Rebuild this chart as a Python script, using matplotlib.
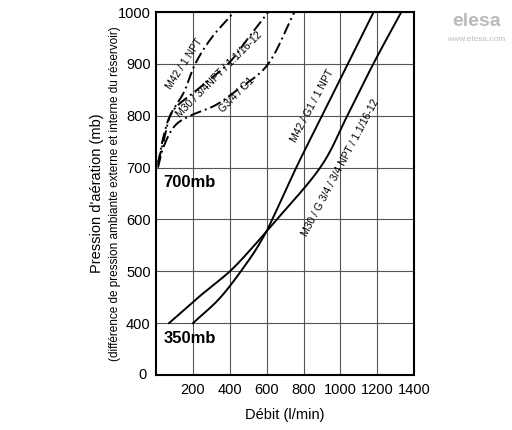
import matplotlib
matplotlib.use("Agg")
import matplotlib.pyplot as plt
import numpy as np

plt.rcParams['font.family'] = ['Liberation Sans', 'DejaVu Sans']

m42_g1_x = [200, 350, 500, 580, 630, 760, 900, 1040, 1180]
m42_g1_y = [400, 450, 520, 565, 600, 700, 800, 900, 1000]
m30_g34_x = [70, 230, 400, 520, 630, 890, 1037, 1178, 1330]
m30_g34_y = [400, 450, 500, 545, 590, 700, 800, 900, 1000]
m42_npt_x = [10, 40, 76, 150, 212, 300, 423]
m42_npt_y = [710, 750, 800, 845, 900, 950, 1000]
m30_npt_x = [10, 40, 92, 222, 390, 500, 608]
m30_npt_y = [705, 760, 810, 850, 900, 950, 1000]
g34_x = [10, 40, 100, 185, 320, 440, 608, 750]
g34_y = [700, 740, 780, 800, 820, 850, 900, 1000]

fig = plt.figure(figsize=(5.12, 4.30), dpi=100)
ax = fig.add_axes([0.305, 0.128, 0.504, 0.844])
ax.set_xlim(0, 1400)
ax.set_ylim(300, 1000)
ax.set_xticks([200, 400, 600, 800, 1000, 1200, 1400])
ax.set_yticks([400, 500, 600, 700, 800, 900, 1000])
ax.grid(True, color='#555555', lw=0.8)
for s in ax.spines.values():
    s.set_linewidth(1.5)
ax.tick_params(length=0, labelsize=10.5)
ax.tick_params(axis='y', pad=4)
ax.tick_params(axis='x', pad=6)
ax.text(-75, 300, '0', ha='center', va='center', fontsize=10.5)

def smooth(x, y, ls):
    p = np.column_stack([x, y]).astype(float)
    p = np.vstack([2*p[0]-p[1], p, 2*p[-1]-p[-2]])
    out = []
    t = np.linspace(0, 1, 30)[:, None]
    for i in range(1, len(p)-2):
        p0, p1, p2, p3 = p[i-1], p[i], p[i+1], p[i+2]
        seg = 0.5*((2*p1) + (-p0+p2)*t + (2*p0-5*p1+4*p2-p3)*t**2 + (-p0+3*p1-3*p2+p3)*t**3)
        out.append(seg)
    q = np.vstack(out)
    ax.plot(q[:, 0], q[:, 1], color='black', lw=1.4, ls=ls)

dd = (0, (6, 2, 1, 2))
smooth(m42_g1_x, m42_g1_y, '-')
smooth(m30_g34_x, m30_g34_y, '-')
smooth(m42_npt_x, m42_npt_y, dd)
smooth(m30_npt_x, m30_npt_y, dd)
smooth(g34_x, g34_y, dd)

fs = 7.5
ax.text(155, 900, 'M42 / 1 NPT', rotation=57, fontsize=fs, ha='center', va='center')
ax.text(340, 880, 'M30 / 3/4NPT / 1.1/16-12', rotation=45, fontsize=fs, ha='center', va='center')
ax.text(440, 840, 'G3/4 / G1', rotation=45, fontsize=fs, ha='center', va='center')
ax.text(850, 820, 'M42 / G1 / 1 NPT', rotation=62, fontsize=fs, ha='center', va='center')
ax.text(1000, 700, 'M30 / G 3/4 / 3/4 NPT / 1.1/16-12', rotation=62, fontsize=fs, ha='center', va='center')
ax.text(40, 672, '700mb', fontsize=12, fontweight='bold', va='center')
ax.text(40, 370, '350mb', fontsize=12, fontweight='bold', va='center')

ax.set_xlabel('Débit (l/min)', fontsize=10.5, labelpad=8)
fig.text(0.19, 0.55, "Pression d'aération (mb)", rotation=90, ha='center', va='center', fontsize=10.5)
fig.text(0.225, 0.55, "(différence de pression ambiante externe et interne du réservoir)", rotation=90, ha='center', va='center', fontsize=8.5)
fig.text(0.93, 0.94, 'elesa', fontsize=14, fontweight='bold', color='#bbbbbb', ha='center')
fig.text(0.93, 0.905, 'www.elesa.com', fontsize=6, color='#bbbbbb', ha='center')
fig.savefig('out.png', dpi=100)
